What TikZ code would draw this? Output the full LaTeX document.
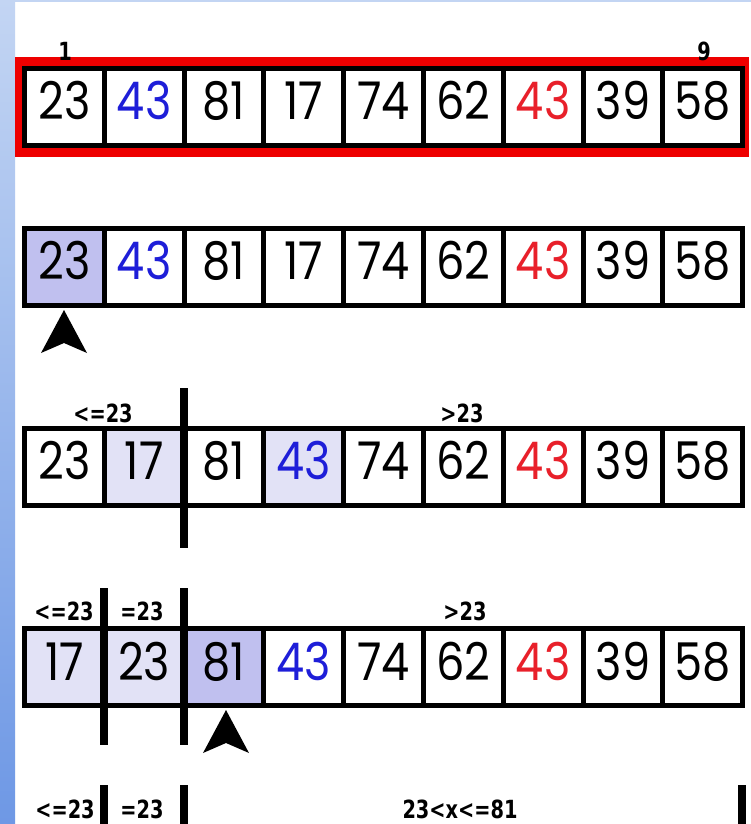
\documentclass[tikz,border=0pt]{standalone}
\usepackage{fontspec}
\newfontfamily\numfont[FakeStretch=0.86]{Poppins}
\newfontfamily\labfont[FakeStretch=0.86]{DejaVu Sans Condensed}
\definecolor{numblue}{HTML}{1E1ED8}
\definecolor{numred}{HTML}{E8202A}
\definecolor{lavdark}{HTML}{C0C0EF}
\definecolor{lavlight}{HTML}{E2E2F6}
\definecolor{framered}{HTML}{EE0000}
\definecolor{striptop}{HTML}{C3D5F3}
\definecolor{stripbot}{HTML}{6E98E5}
\tikzset{
  cell/.style={draw=black, line width=5pt, minimum width=79.8pt, minimum height=77pt,
    inner sep=0pt, text height=36pt, text depth=10pt, fill=white,
    font=\numfont\fontsize{52}{52}\selectfont},
  tag/.style={anchor=base, inner sep=0pt, font=\labfont\bfseries\fontsize{25}{25}\selectfont},
  bar/.style={line width=8pt},
  pointer/.style={fill=black},
}
\begin{document}
\begin{tikzpicture}[x=1pt,y=-1pt]
\useasboundingbox (0,0) rectangle (751,824);
\fill[white] (0,0) rectangle (751,824);
\shade[top color=striptop, bottom color=stripbot] (0,0) rectangle (15,824);
\fill[striptop] (0,0) rectangle (751,2.5);
% red frame around first row
\fill[framered] (15,57) rectangle (749,157);
% rows of cells
\foreach \r/\y/\vals in {
  1/107/{23,43,81,17,74,62,43,39,58},
  2/266.5/{23,43,81,17,74,62,43,39,58},
  3/466.5/{23,17,81,43,74,62,43,39,58},
  4/667/{17,23,81,43,74,62,43,39,58}}{
  \foreach \v [count=\c] in \vals {
    \pgfmathsetmacro{\xx}{64.4+79.8*(\c-1)}
    \def\fillc{white}\def\textc{black}
    \ifnum\c=2 \ifnum\r<3 \def\textc{numblue}\fi\fi
    \ifnum\c=4 \ifnum\r>2 \def\textc{numblue}\fi\fi
    \ifnum\c=7 \def\textc{numred}\fi
    \ifnum\r=2 \ifnum\c=1 \def\fillc{lavdark}\fi\fi
    \ifnum\r=3 \ifnum\c=2 \def\fillc{lavlight}\fi\ifnum\c=4 \def\fillc{lavlight}\fi\fi
    \ifnum\r=4 \ifnum\c<3 \def\fillc{lavlight}\fi\ifnum\c=3 \def\fillc{lavdark}\fi\fi
    \node[cell, fill=\fillc, text=\textc] (r\r c\c) at (\xx,\y) {\v};
  }
}
% index labels
\node[tag] (i1) at (65,61) {1};
\node[tag] (i9) at (704,61) {9};
% row 3 labels
\node[tag] (a1) at (103,422) {<=23};
\node[tag] (a2) at (462,422) {>23};
% row 4 labels
\node[tag] (b1) at (64,620) {<=23};
\node[tag] (b2) at (142,620) {=23};
\node[tag] (b3) at (465,620) {>23};
% row 5 labels
\node[tag] (c1) at (65,818) {<=23};
\node[tag] (c2) at (142,818) {=23};
\node[tag] (c3) at (460,818) {23<x<=81};
% partition bars
\coordinate (s3t) at (184,388); \coordinate (s3b) at (184,548);
\draw[bar] (s3t) -- (s3b);
\coordinate (s4at) at (104,588); \coordinate (s4ab) at (104,745);
\coordinate (s4bt) at (184,588); \coordinate (s4bb) at (184,745);
\draw[bar] (s4at) -- (s4ab);
\draw[bar] (s4bt) -- (s4bb);
\coordinate (s5at) at (104,785); \coordinate (s5ab) at (104,824);
\coordinate (s5bt) at (184,785); \coordinate (s5bb) at (184,824);
\coordinate (s5ct) at (742,785); \coordinate (s5cb) at (742,824);
\draw[bar] (s5at) -- (s5ab);
\draw[bar] (s5bt) -- (s5bb);
\draw[bar] (s5ct) -- (s5cb);
% pointers
\coordinate (p2) at (64,310);
\fill[pointer] (p2) -- ++(-23,43) -- ++(23,-10) -- ++(23,10) -- cycle;
\coordinate (p4) at (226,710);
\fill[pointer] (p4) -- ++(-23,43) -- ++(23,-10) -- ++(23,10) -- cycle;
\end{tikzpicture}
\end{document}
